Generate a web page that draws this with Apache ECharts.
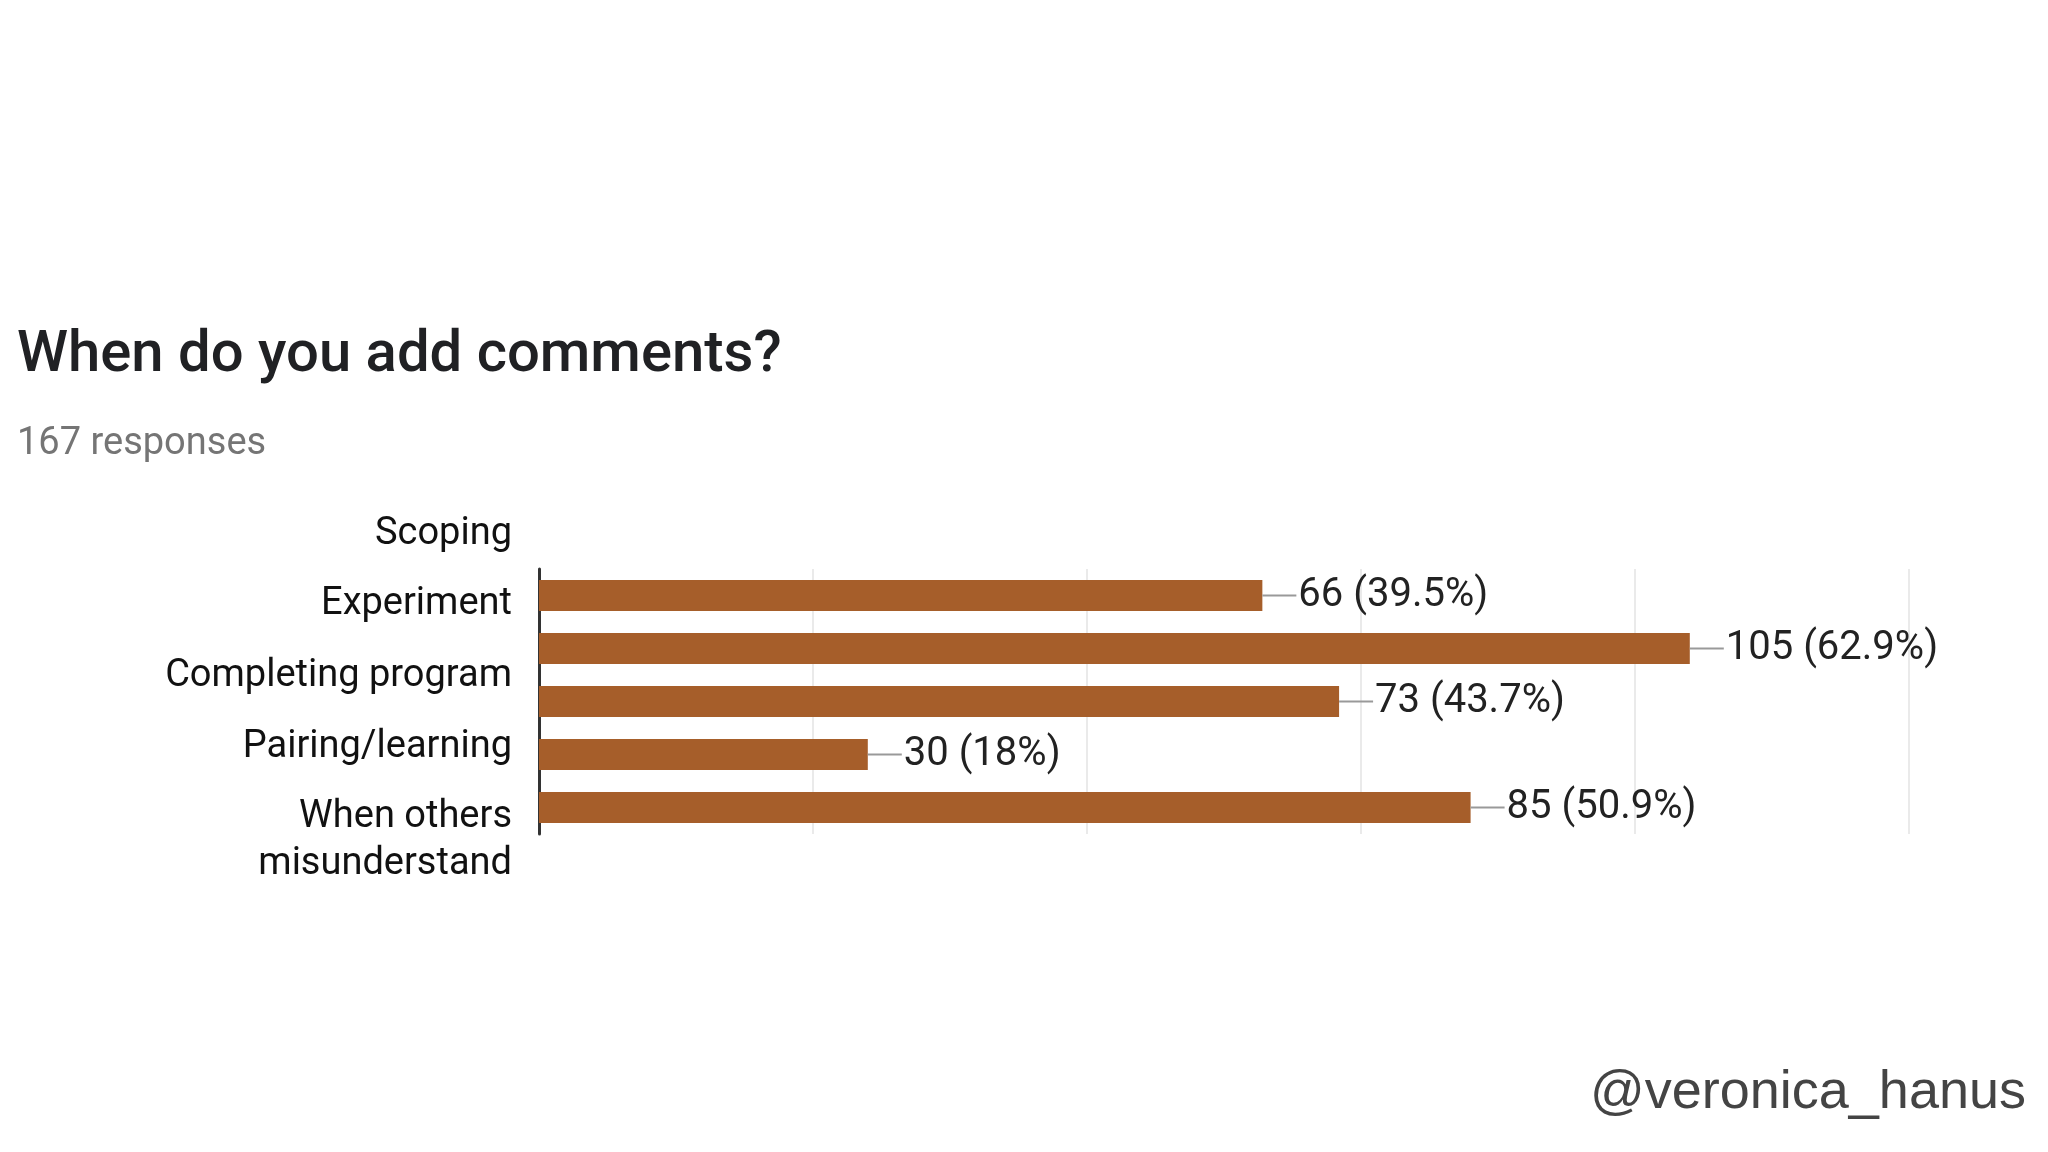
<!DOCTYPE html>
<html><head><meta charset="utf-8">
<script src="https://cdn.jsdelivr.net/npm/echarts@6/dist/echarts.min.js"></script>
<style>html,body{margin:0;background:#fff}#c{width:2048px;height:1152px}</style>
</head><body><div id="c"></div>
<script>
const categories = ["Scoping", "Experiment", "Completing program", "Pairing/learning", "When others\nmisunderstand"];
const counts = [66, 105, 73, 30, 85];
const percents = ["39.5%", "62.9%", "43.7%", "18%", "50.9%"];
const xTicks = [0, 25, 50, 75, 100, 125];

const labelY = [533, 603, 675, 746, 840];
const chart = echarts.init(document.getElementById('c'));
chart.setOption({
  backgroundColor: '#fff',
  animation: false,
  title: [
    {text: 'When do you add comments?', left: 12, top: 322, textStyle: {fontFamily: 'Roboto', fontWeight: 500, fontSize: 58, color: '#202124'}},
    {text: '167 responses', left: 12, top: 420, textStyle: {fontFamily: 'Roboto', fontWeight: 400, fontSize: 38, color: '#757575'}}
  ],
  graphic: categories.map((c, i) => ({
    type: 'text', right: 2048 - 512, top: labelY[i] - (c.includes('\n') ? 46 : 22),
    style: {text: c, fontFamily: 'Roboto', fontSize: 38, fill: '#111', textAlign: 'right', lineHeight: 47}
  })).concat([{
    type: 'text', right: 22, top: 1066,
    style: {text: '@veronica_hanus', fontFamily: 'Liberation Sans', fontSize: 54, fill: '#444'}
  }]),
  grid: {left: 539, right: 2048 - 1909, top: 569, height: 265},
  xAxis: {type: 'value', min: xTicks[0], max: xTicks[xTicks.length - 1], interval: 25,
    axisLabel: {show: false}, axisLine: {show: false}, axisTick: {show: false},
    splitLine: {lineStyle: {color: '#eaeaea', width: 2}}},
  yAxis: {type: 'category', inverse: true, data: categories,
    axisLabel: {show: false}, axisTick: {show: false},
    axisLine: {lineStyle: {color: '#333', width: 3}}},
  series: [{
    type: 'bar', barWidth: 31,
    data: counts,
    itemStyle: {color: '#a65e2a'},
    label: {show: true, position: 'right', distance: 0,
      formatter: p => '{l|}{t|' + counts[p.dataIndex] + ' (' + percents[p.dataIndex] + ')}',
      rich: {
        l: {width: 34, height: 2, backgroundColor: '#999'},
        t: {fontFamily: 'Roboto', fontSize: 40, color: '#222', padding: [0, 0, 0, 2]}
      }}
  }]
});
</script></body></html>
